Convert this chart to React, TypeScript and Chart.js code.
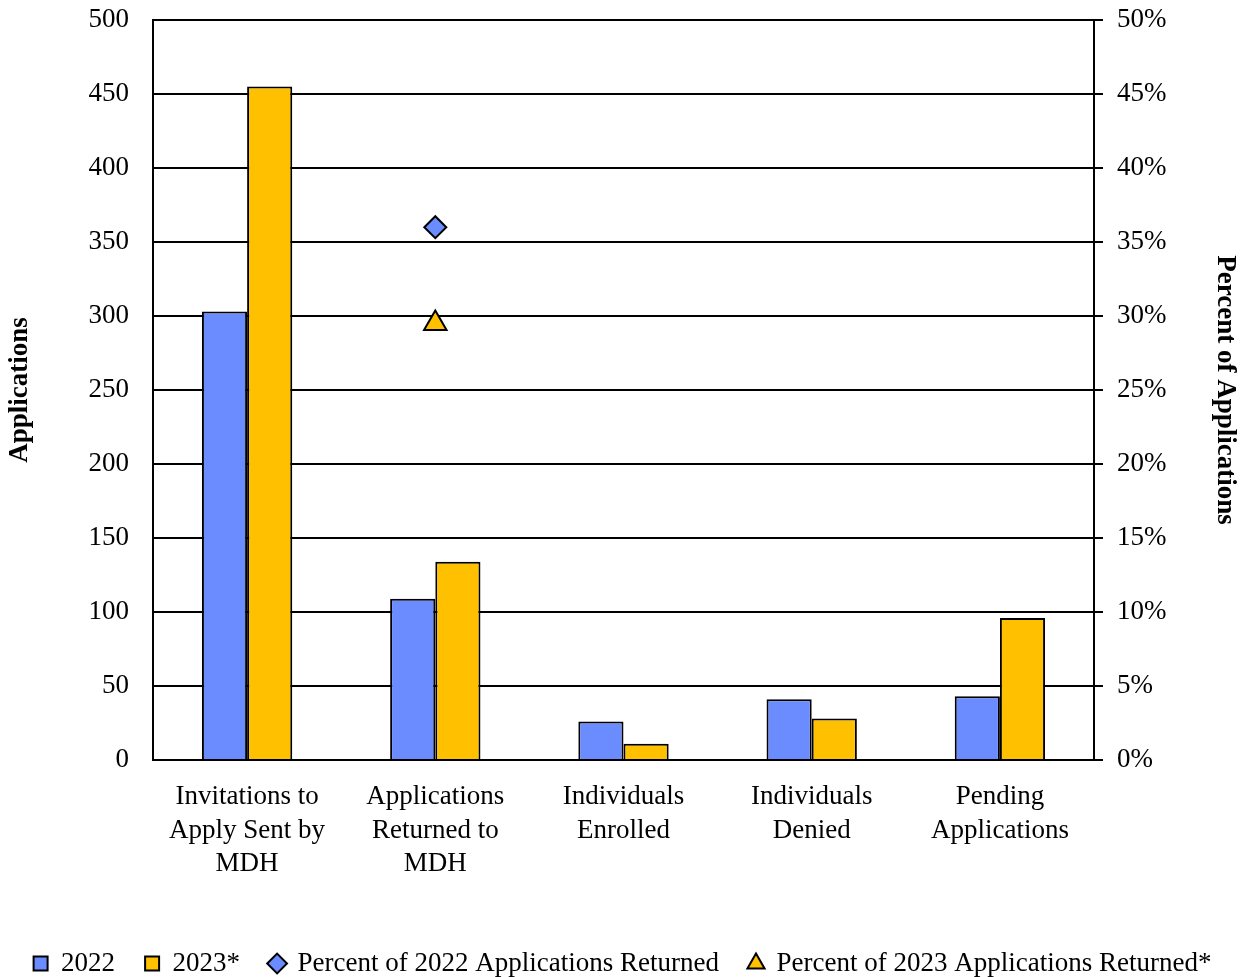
import React, { useEffect, useRef } from "react";
import { Chart, registerables } from "chart.js";

Chart.register(...registerables);

const categories: string[][] = [
  ["Invitations to", "Apply Sent by", "MDH"],
  ["Applications", "Returned to", "MDH"],
  ["Individuals", "Enrolled"],
  ["Individuals", "Denied"],
  ["Pending", "Applications"],
];
const values2022: number[] = [303, 109, 26, 41, 43];
const values2023: number[] = [455, 134, 11, 28, 96];
const pct2022: (number | null)[] = [null, 36.0, null, null, null];
const pct2023: (number | null)[] = [null, 29.5, null, null, null];

const BLUE = "#6b8cff";
const YELLOW = "#ffc000";
const FONT = "'Liberation Serif', 'Times New Roman', serif";
const FS = 27;

export default function App() {
  const ref = useRef<HTMLCanvasElement | null>(null);

  useEffect(() => {
    document.body.style.margin = "0";
    const canvas = ref.current;
    if (!canvas) return;
    const chart = new Chart(canvas, {
      type: "bar",
      data: {
        labels: categories,
        datasets: [
          {
            label: "2022",
            data: values2022,
            backgroundColor: BLUE,
            borderColor: "#000",
            borderWidth: 2,
            pointStyle: "rect",
            categoryPercentage: 0.48,
            barPercentage: 1.0,
            yAxisID: "y",
          } as any,
          {
            label: "2023*",
            data: values2023,
            backgroundColor: YELLOW,
            borderColor: "#000",
            borderWidth: 2,
            pointStyle: "rect",
            categoryPercentage: 0.48,
            barPercentage: 1.0,
            yAxisID: "y",
          } as any,
          {
            type: "line",
            label: "Percent of 2022 Applications Returned",
            data: pct2022,
            showLine: false,
            pointStyle: "rectRot",
            pointRadius: 11,
            pointBackgroundColor: BLUE,
            pointBorderColor: "#000",
            pointBorderWidth: 2,
            backgroundColor: BLUE,
            borderColor: "#000",
            borderWidth: 2,
            yAxisID: "y1",
          } as any,
          {
            type: "line",
            label: "Percent of 2023 Applications Returned*",
            data: pct2023,
            showLine: false,
            pointStyle: "triangle",
            pointRadius: 13,
            pointBackgroundColor: YELLOW,
            pointBorderColor: "#000",
            pointBorderWidth: 2,
            backgroundColor: YELLOW,
            borderColor: "#000",
            borderWidth: 2,
            yAxisID: "y1",
          } as any,
        ],
      },
      options: {
        responsive: false,
        animation: false,
        layout: { padding: { top: 20, left: 0, right: 0, bottom: -10 } },
        plugins: {
          tooltip: { enabled: false },
          legend: {
            position: "bottom",
            labels: {
              usePointStyle: true,
              boxWidth: 14,
              boxHeight: 14,
              padding: 30,
              color: "#000",
              font: { family: FONT, size: FS },
            },
          },
        },
        scales: {
          x: {
            grid: { display: false, drawTicks: false },
            border: { display: true, color: "#000", width: 2 },
            ticks: {
              color: "#000",
              font: { family: FONT, size: FS, lineHeight: 1.25 },
              padding: 20,
              maxRotation: 0,
              autoSkip: false,
            },
            afterFit: (scale: any) => {
              scale.height = 160;
              scale.paddingLeft = 0;
              scale.paddingRight = 0;
            },
          },
          y: {
            position: "left",
            min: 0,
            max: 500,
            ticks: {
              stepSize: 50,
              color: "#000",
              font: { family: FONT, size: FS },
              padding: 24,
            },
            grid: { color: "#000", lineWidth: 2, drawTicks: false },
            border: { display: true, color: "#000", width: 2 },
            title: {
              display: true,
              text: "Applications",
              color: "#000",
              font: { family: FONT, size: FS, weight: "bold" },
            },
            afterFit: (scale: any) => {
              scale.width = 153;
              scale.paddingTop = 0;
              scale.paddingBottom = 0;
            },
          },
          y1: {
            position: "right",
            min: 0,
            max: 50,
            ticks: {
              stepSize: 5,
              color: "#000",
              font: { family: FONT, size: FS },
              padding: 14,
              callback: (v: any) => v + "%",
            },
            grid: {
              drawOnChartArea: false,
              drawTicks: true,
              tickLength: 9,
              color: "#000",
              lineWidth: 2,
            },
            border: { display: true, color: "#000", width: 2 },
            title: {
              display: true,
              text: "Percent of Applications",
              color: "#000",
              font: { family: FONT, size: FS, weight: "bold" },
            },
            afterFit: (scale: any) => {
              scale.width = 151;
              scale.paddingTop = 0;
              scale.paddingBottom = 0;
            },
          },
        },
      } as any,
    });
    return () => chart.destroy();
  }, []);

  return (
    <div style={{ width: 1245, height: 977 }}>
      <canvas ref={ref} width={1245} height={977} style={{ display: "block" }} />
    </div>
  );
}
